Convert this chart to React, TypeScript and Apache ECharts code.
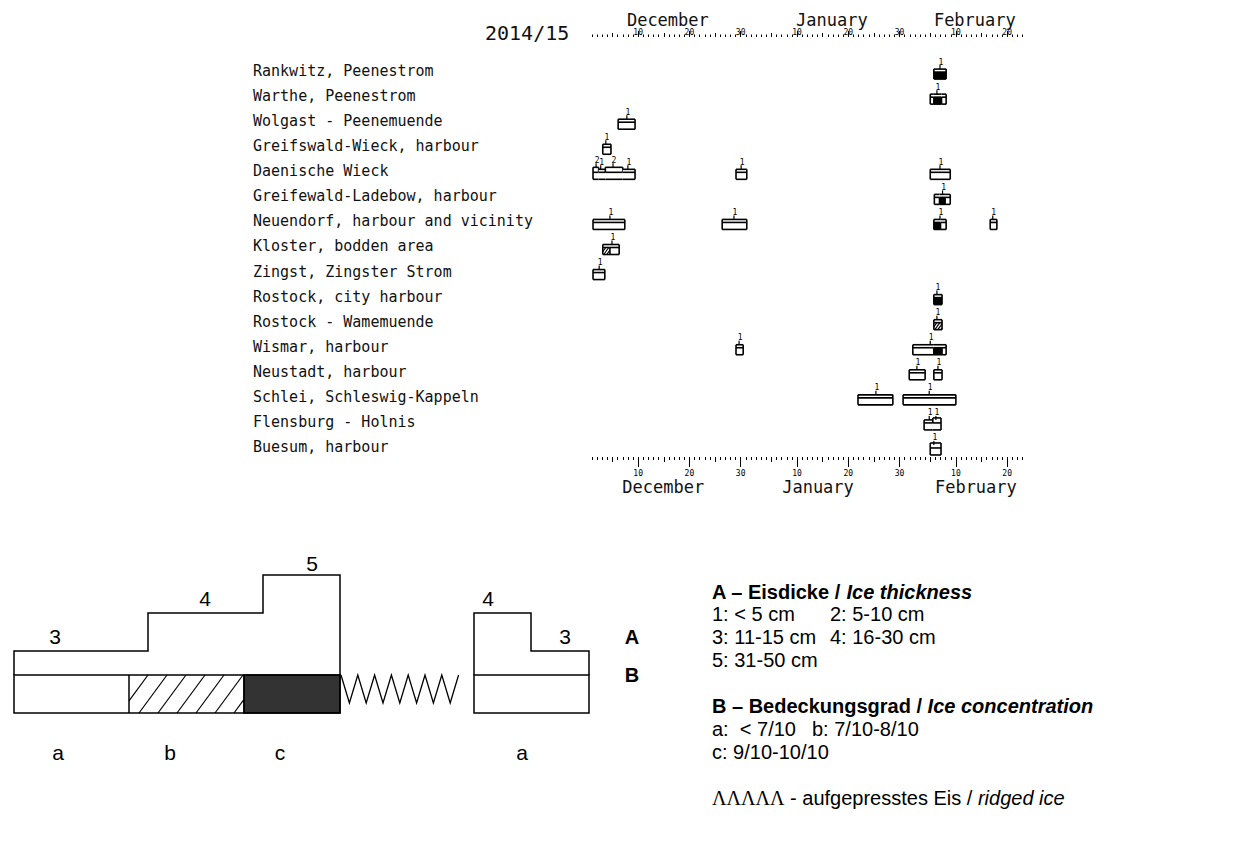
import React, { useEffect, useRef } from 'react';
import * as echarts from 'echarts';

// ---------------- data ----------------
const seasonLabel = '2014/15';

const stations = [
  'Rankwitz, Peenestrom',
  'Warthe, Peenestrom',
  'Wolgast - Peenemuende',
  'Greifswald-Wieck, harbour',
  'Daenische Wieck',
  'Greifewald-Ladebow, harbour',
  'Neuendorf, harbour and vicinity',
  'Kloster, bodden area',
  'Zingst, Zingster Strom',
  'Rostock, city harbour',
  'Rostock - Wamemuende',
  'Wismar, harbour',
  'Neustadt, harbour',
  'Schlei, Schleswig-Kappeln',
  'Flensburg - Holnis',
  'Buesum, harbour',
];

// day numbers: 1 = 1 December 2014, 32 = 1 January 2015, 63 = 1 February 2015
const dayMin = 1;
const dayMax = 85;
const minorTickDays = Array.from({ length: dayMax - dayMin + 1 }, (_, i) => dayMin + i);
const midTickDays = [5, 15, 25, 36, 46, 56, 67, 77];
const labelDays = [10, 20, 30, 41, 51, 61, 72, 82];
const labelTexts = ['10', '20', '30', '10', '20', '30', '10', '20'];
const months = ['December', 'January', 'February'];
const monthPosTop = [15.8, 47.8, 75.7];
const monthPosBottom = [14.9, 45.1, 75.9];

// [station row, start day, end day, concentration (a <7/10, b 7-8/10, c 9-10/10), thickness class]
const iceSegments: [number, number, number, string, number][] = [
  [0, 67.7, 70.1, 'c', 1],
  [1, 67.0, 67.7, 'a', 1],
  [1, 67.7, 69.2, 'c', 1],
  [1, 69.2, 70.1, 'a', 1],
  [2, 6.1, 9.4, 'a', 1],
  [3, 3.1, 4.7, 'a', 1],
  [4, 1.2, 2.3, 'a', 2],
  [4, 2.3, 3.6, 'a', 1],
  [4, 3.6, 7.0, 'a', 2],
  [4, 7.0, 9.4, 'a', 1],
  [4, 29.1, 31.2, 'a', 1],
  [4, 67.0, 70.9, 'a', 1],
  [5, 67.8, 68.8, 'a', 1],
  [5, 68.8, 69.9, 'c', 1],
  [5, 69.9, 70.9, 'a', 1],
  [6, 1.2, 7.4, 'a', 1],
  [6, 26.4, 31.2, 'a', 1],
  [6, 67.7, 69.0, 'c', 1],
  [6, 69.0, 70.1, 'a', 1],
  [6, 78.7, 80.0, 'a', 1],
  [7, 3.1, 4.5, 'b', 1],
  [7, 4.5, 6.3, 'a', 1],
  [8, 1.2, 3.5, 'a', 1],
  [9, 67.7, 69.3, 'c', 1],
  [10, 67.7, 69.3, 'b', 1],
  [11, 29.1, 30.5, 'a', 1],
  [11, 63.6, 67.7, 'a', 1],
  [11, 67.7, 69.3, 'c', 1],
  [11, 69.3, 70.1, 'a', 1],
  [12, 62.9, 66.0, 'a', 1],
  [12, 67.7, 69.3, 'a', 1],
  [13, 52.9, 59.7, 'a', 1],
  [13, 61.7, 72.0, 'a', 1],
  [14, 65.8, 67.5, 'a', 1],
  [14, 67.5, 69.1, 'a', 2],
  [15, 67.0, 69.1, 'a', 2],
];

// [station row, day, thickness class label]
const thicknessMarks: [number, number, number][] = [
  [0, 68.9, 1],
  [1, 68.3, 1],
  [2, 7.8, 1],
  [3, 3.7, 1],
  [4, 1.8, 2],
  [4, 2.7, 1],
  [4, 5.1, 2],
  [4, 8.0, 1],
  [4, 30.1, 1],
  [4, 68.9, 1],
  [5, 69.4, 1],
  [6, 4.5, 1],
  [6, 28.7, 1],
  [6, 68.9, 1],
  [6, 79.2, 1],
  [7, 4.9, 1],
  [8, 2.4, 1],
  [9, 68.3, 1],
  [10, 68.3, 1],
  [11, 29.7, 1],
  [11, 67.0, 1],
  [12, 64.4, 1],
  [12, 68.5, 1],
  [13, 56.4, 1],
  [13, 66.8, 1],
  [14, 66.8, 1],
  [14, 68.1, 1],
  [15, 67.7, 1],
];

// ---------------- styling helpers ----------------
const MONO = '"DejaVu Sans Mono", monospace';
const SANS = '"Liberation Sans", Arial, sans-serif';
const SERIF = '"Liberation Serif", "Times New Roman", serif';

function hatch(x0: number, y0: number, w: number, h: number, spacing: number, dx: number) {
  const out: number[][] = [];
  for (let xb = x0 - dx; xb < x0 + w; xb += spacing) {
    const tmin = Math.max(0, (x0 - xb) / dx);
    const tmax = Math.min(1, (x0 + w - xb) / dx);
    if (tmin < tmax) {
      out.push([xb + dx * tmin, y0 + h - h * tmin, xb + dx * tmax, y0 + h - h * tmax]);
    }
  }
  return out;
}

const B_H = 7;
const aHeight = (cls: number) => 1 + 2 * cls;
const LW = 1.6;

function neighbour(i: number, dir: number) {
  const s = iceSegments[i];
  const n = iceSegments[i + dir];
  if (!n || n[0] !== s[0]) return null;
  if (dir < 0 && Math.abs(n[2] - s[1]) < 0.05) return n;
  if (dir > 0 && Math.abs(n[1] - s[2]) < 0.05) return n;
  return null;
}

function renderSegment(params: any, api: any) {
  const i = params.dataIndex;
  const seg = iceSegments[i];
  const conc = seg[3];
  const p0 = api.coord([api.value(0), api.value(1)]);
  const p1 = api.coord([api.value(2), api.value(1)]);
  const x = p0[0];
  const x2 = p1[0];
  const w = x2 - x;
  const yc = p0[1];
  const bTop = yc + 1;
  const bBot = bTop + B_H;
  const cls = api.value(3);
  const aTop = bTop - aHeight(cls);
  const stroke = { stroke: '#000', lineWidth: LW };
  const children: any[] = [
    { type: 'rect', shape: { x, y: aTop, width: w, height: bTop - aTop }, style: { fill: '#fff' } },
    { type: 'rect', shape: { x, y: bTop, width: w, height: B_H }, style: { fill: conc === 'c' ? '#000' : '#fff' } },
  ];
  if (conc === 'b') {
    hatch(x, bTop, w, B_H, 3, 5).forEach((l) =>
      children.push({ type: 'line', shape: { x1: l[0], y1: l[1], x2: l[2], y2: l[3] }, style: { stroke: '#000', lineWidth: 1.2 } })
    );
  }
  const ln = (x1: number, y1: number, xx: number, y2: number) =>
    children.push({ type: 'line', shape: { x1, y1, x2: xx, y2 }, style: stroke });
  ln(x, aTop, x2, aTop);
  ln(x, bTop, x2, bTop);
  ln(x, bBot, x2, bBot);
  const prev = neighbour(i, -1);
  const next = neighbour(i, 1);
  if (!prev) ln(x, aTop, x, bBot);
  else {
    if (prev[4] < cls) ln(x, aTop, x, bTop);
    if (prev[3] !== conc) ln(x, bTop, x, bBot);
  }
  if (!next) ln(x2, aTop, x2, bBot);
  else if (next[4] < cls) ln(x2, aTop, x2, bTop);
  return { type: 'group', children };
}

function renderMark(params: any, api: any) {
  const p = api.coord([api.value(0), api.value(1)]);
  const cls = api.value(2);
  const top = p[1] + 1 - aHeight(cls);
  return {
    type: 'group',
    children: [
      { type: 'line', shape: { x1: p[0], y1: top, x2: p[0], y2: top - 4 }, style: { stroke: '#000', lineWidth: 1.2 } },
      {
        type: 'text',
        style: {
          text: String(cls),
          x: p[0] + 1,
          y: top - 3,
          fontSize: 8,
          fontFamily: MONO,
          fill: '#000',
          align: 'center',
          verticalAlign: 'bottom',
        },
      },
    ],
  };
}

// ---------------- legend diagram (static key) ----------------
function legendGraphics() {
  const els: any[] = [];
  const line = { stroke: '#000', lineWidth: 1.5, fill: null };
  const t = (text: string, x: number, y: number, size = 21, weight = 'normal') => ({
    type: 'text',
    x,
    y,
    style: { text, fontFamily: SANS, fontSize: size, fontWeight: weight, fill: '#000', align: 'center', verticalAlign: 'middle' },
  });
  els.push({ type: 'rect', shape: { x: 244, y: 675, width: 96, height: 38 }, style: { fill: '#333', stroke: '#000', lineWidth: 1.5 } });
  els.push({ type: 'rect', shape: { x: 14, y: 675, width: 326, height: 38 }, style: { fill: null, stroke: '#000', lineWidth: 1.5 } });
  els.push({ type: 'line', shape: { x1: 129, y1: 675, x2: 129, y2: 713 }, style: line });
  els.push({ type: 'line', shape: { x1: 244, y1: 675, x2: 244, y2: 713 }, style: line });
  hatch(129, 675, 115, 38, 19, 28).forEach((l) =>
    els.push({ type: 'line', shape: { x1: l[0], y1: l[1], x2: l[2], y2: l[3] }, style: { stroke: '#000', lineWidth: 1.2 } })
  );
  els.push({
    type: 'polyline',
    shape: { points: [[14, 675], [14, 651], [148, 651], [148, 613], [263, 613], [263, 575], [340, 575], [340, 675]] },
    style: line,
  });
  const zz: number[][] = [];
  for (let i = 0; i <= 14; i++) zz.push([341 + i * 8.4, i % 2 === 0 ? 675 : 703]);
  els.push({ type: 'polyline', shape: { points: zz }, style: { stroke: '#000', lineWidth: 1.3, fill: null } });
  els.push({ type: 'rect', shape: { x: 474, y: 675, width: 115, height: 38 }, style: { fill: null, stroke: '#000', lineWidth: 1.5 } });
  els.push({
    type: 'polyline',
    shape: { points: [[474, 675], [474, 613], [531, 613], [531, 651], [589, 651], [589, 675]] },
    style: line,
  });
  els.push(t('3', 55, 636));
  els.push(t('4', 205, 598));
  els.push(t('5', 312, 563));
  els.push(t('4', 488, 598));
  els.push(t('3', 565, 636));
  els.push(t('A', 632, 637, 20, 'bold'));
  els.push(t('B', 632, 675, 20, 'bold'));
  els.push(t('a', 58, 752));
  els.push(t('b', 170, 752));
  els.push(t('c', 280, 752));
  els.push(t('a', 522, 752));

  const base = { fontFamily: SANS, fontSize: 20, fill: '#000', lineHeight: 20 };
  const rich = {
    b: { ...base, fontWeight: 'bold' },
    bi: { ...base, fontWeight: 'bold', fontStyle: 'italic' },
    n: { ...base },
    i: { ...base, fontStyle: 'italic' },
    s: { ...base, fontFamily: SERIF },
  };
  const rt = (text: string, x: number, y: number) => ({
    type: 'text',
    x,
    y,
    style: { text, rich, ...base, align: 'left', verticalAlign: 'middle' },
  });
  els.push(rt('{b|A – Eisdicke / }{bi|Ice thickness}', 712, 592));
  els.push(rt('{n|1: < 5 cm}', 712, 614));
  els.push(rt('{n|2: 5-10 cm}', 830, 614));
  els.push(rt('{n|3: 11-15 cm}', 712, 637));
  els.push(rt('{n|4: 16-30 cm}', 830, 637));
  els.push(rt('{n|5: 31-50 cm}', 712, 660));
  els.push(rt('{b|B – Bedeckungsgrad / }{bi|Ice concentration}', 712, 706));
  els.push(rt('{n|a:  < 7/10}', 712, 729));
  els.push(rt('{n|b: 7/10-8/10}', 812, 729));
  els.push(rt('{n|c: 9/10-10/10}', 712, 752));
  els.push(rt('{s|ΛΛΛΛΛ}{n| - aufgepresstes Eis / }{i|ridged ice}', 712, 798));

  els.push({
    type: 'text',
    x: 485,
    y: 32.5,
    style: { text: seasonLabel, fontFamily: MONO, fontSize: 20, fill: '#111', align: 'left', verticalAlign: 'middle' },
  });
  return els;
}

// ---------------- axes ----------------
const tickStyle = { color: '#000', width: 1 };
const xBase = {
  type: 'value',
  min: dayMin,
  max: dayMax,
  gridIndex: 0,
  axisLine: { show: false, onZero: false },
  splitLine: { show: false },
  axisPointer: { show: false },
};
const dayLabel = (v: number) => {
  const i = labelDays.findIndex((d) => Math.abs(d - v) < 0.01);
  return i >= 0 ? labelTexts[i] : '';
};
const monthLabel = (pos: number[]) => (v: number) => {
  const i = pos.findIndex((d) => Math.abs(d - v) < 0.01);
  return i >= 0 ? months[i] : '';
};
const smallLabel = { fontFamily: MONO, fontSize: 8, color: '#000', lineHeight: 8 };
const monthStyle = { fontFamily: MONO, fontSize: 17, color: '#111', lineHeight: 15 };

function makeAxes() {
  return [
    { ...xBase, position: 'top', axisTick: { customValues: minorTickDays, length: 2.5, lineStyle: tickStyle }, axisLabel: { show: false } },
    { ...xBase, position: 'top', axisTick: { customValues: midTickDays, length: 4, lineStyle: tickStyle }, axisLabel: { show: false } },
    {
      ...xBase,
      position: 'top',
      axisTick: { customValues: labelDays, length: 6, lineStyle: tickStyle },
      axisLabel: { customValues: labelDays, formatter: dayLabel, margin: 1, ...smallLabel },
    },
    {
      ...xBase,
      position: 'top',
      axisTick: { show: false },
      axisLabel: { customValues: monthPosTop, formatter: monthLabel(monthPosTop), margin: 10, ...monthStyle },
    },
    { ...xBase, position: 'bottom', axisTick: { customValues: minorTickDays, length: 3, lineStyle: tickStyle }, axisLabel: { show: false } },
    { ...xBase, position: 'bottom', axisTick: { customValues: midTickDays, length: 5, lineStyle: tickStyle }, axisLabel: { show: false } },
    {
      ...xBase,
      position: 'bottom',
      axisTick: { customValues: labelDays, length: 10, lineStyle: tickStyle },
      axisLabel: { customValues: labelDays, formatter: dayLabel, margin: 12, ...smallLabel },
    },
    {
      ...xBase,
      position: 'bottom',
      axisTick: { show: false },
      axisLabel: { customValues: monthPosBottom, formatter: monthLabel(monthPosBottom), margin: 22, ...monthStyle },
    },
  ];
}

export default function App() {
  const ref = useRef<HTMLDivElement>(null);
  useEffect(() => {
    document.body.style.margin = '0';
    if (!ref.current) return;
    const chart = echarts.init(ref.current, undefined, { renderer: 'svg' });
    const option: any = {
      animation: false,
      backgroundColor: '#fff',
      grid: { left: 592, top: 37, width: 430.5, height: 420, outerBoundsMode: 'none' },
      xAxis: makeAxes(),
      yAxis: [
        {
          type: 'value',
          inverse: true,
          min: -1.36,
          max: 15.4,
          axisLine: { show: false, onZero: false },
          axisTick: { show: false },
          splitLine: { show: false },
          axisLabel: {
            customValues: stations.map((_, i) => i),
            formatter: (v: number) => stations[Math.round(v)] ?? '',
            align: 'left',
            margin: 339,
            fontFamily: MONO,
            fontSize: 15,
            color: '#111',
          },
        },
      ],
      series: [
        {
          type: 'custom',
          coordinateSystem: 'cartesian2d',
          xAxisIndex: 0,
          yAxisIndex: 0,
          data: iceSegments.map((s) => [s[1], s[0], s[2], s[4]]),
          encode: { x: [0, 2], y: 1 },
          renderItem: renderSegment,
          silent: true,
        },
        {
          type: 'custom',
          coordinateSystem: 'cartesian2d',
          xAxisIndex: 0,
          yAxisIndex: 0,
          data: thicknessMarks.map((m) => [m[1], m[0], m[2]]),
          encode: { x: 0, y: 1 },
          renderItem: renderMark,
          silent: true,
        },
      ],
      graphic: { elements: legendGraphics() },
    };
    chart.setOption(option);
    return () => chart.dispose();
  }, []);
  return <div ref={ref} style={{ width: 1244, height: 857 }} />;
}
